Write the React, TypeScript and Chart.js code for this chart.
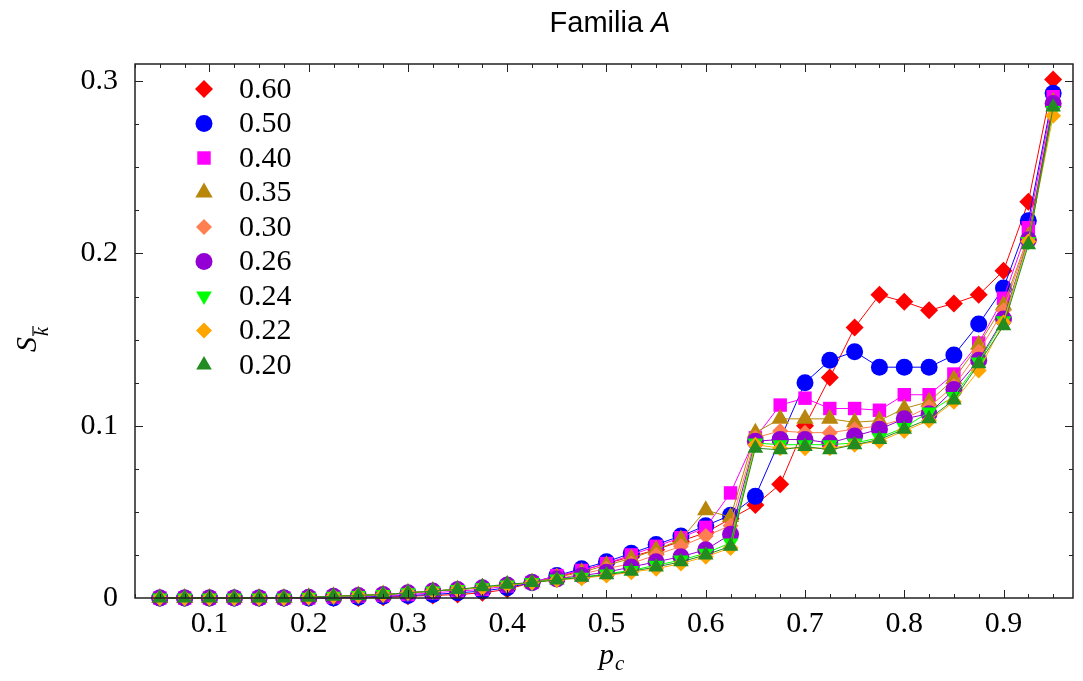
import React, { useEffect, useRef } from 'react';
import { Chart, registerables } from 'chart.js';

Chart.register(...registerables);

// ---- data ----
const pValues = [0.05, 0.075, 0.1, 0.125, 0.15, 0.175, 0.2, 0.225, 0.25, 0.275, 0.3, 0.325, 0.35, 0.375, 0.4, 0.425, 0.45, 0.475, 0.5, 0.525, 0.55, 0.575, 0.6, 0.625, 0.65, 0.675, 0.7, 0.725, 0.75, 0.775, 0.8, 0.825, 0.85, 0.875, 0.9, 0.925, 0.95];

const s060 = [0, 0, 0, 0, 0, 0, 0, 0, 0, 0.0005, 0.001, 0.0015, 0.002, 0.003, 0.005, 0.009, 0.012, 0.016, 0.02, 0.024, 0.028, 0.033, 0.038, 0.046, 0.054, 0.066, 0.1, 0.128, 0.157, 0.176, 0.172, 0.167, 0.171, 0.176, 0.19, 0.23, 0.301];
const s050 = [0, 0, 0, 0, 0, 0, 0, 0, 0.0005, 0.001, 0.0015, 0.002, 0.003, 0.004, 0.006, 0.009, 0.013, 0.017, 0.021, 0.026, 0.031, 0.036, 0.042, 0.048, 0.059, 0.092, 0.125, 0.138, 0.143, 0.134, 0.134, 0.134, 0.141, 0.159, 0.18, 0.219, 0.293];
const s040 = [0, 0, 0, 0, 0, 0, 0, 0.0005, 0.001, 0.0015, 0.002, 0.003, 0.004, 0.005, 0.007, 0.009, 0.013, 0.016, 0.02, 0.025, 0.03, 0.035, 0.041, 0.061, 0.093, 0.112, 0.116, 0.11, 0.11, 0.109, 0.118, 0.118, 0.13, 0.148, 0.174, 0.215, 0.291];
const s035 = [0, 0, 0, 0, 0, 0, 0.0005, 0.001, 0.0015, 0.002, 0.003, 0.004, 0.005, 0.006, 0.0075, 0.009, 0.012, 0.015, 0.019, 0.023, 0.028, 0.034, 0.051, 0.047, 0.096, 0.104, 0.104, 0.104, 0.102, 0.103, 0.11, 0.114, 0.127, 0.147, 0.17, 0.21, 0.288];
const s030 = [0, 0, 0, 0, 0, 0, 0.0005, 0.001, 0.0015, 0.002, 0.003, 0.004, 0.005, 0.006, 0.0075, 0.009, 0.011, 0.014, 0.017, 0.02, 0.025, 0.03, 0.036, 0.042, 0.093, 0.097, 0.096, 0.096, 0.098, 0.1, 0.104, 0.111, 0.123, 0.143, 0.167, 0.209, 0.285];
const s026 = [0, 0, 0, 0, 0, 0, 0.0005, 0.001, 0.0015, 0.002, 0.003, 0.004, 0.005, 0.006, 0.0075, 0.009, 0.011, 0.013, 0.015, 0.018, 0.021, 0.024, 0.028, 0.037, 0.091, 0.092, 0.092, 0.09, 0.094, 0.098, 0.104, 0.107, 0.121, 0.138, 0.162, 0.208, 0.287];
const s024 = [0, 0, 0, 0, 0, 0, 0.0005, 0.001, 0.0015, 0.002, 0.003, 0.004, 0.005, 0.006, 0.0075, 0.009, 0.011, 0.012, 0.014, 0.016, 0.019, 0.022, 0.026, 0.032, 0.09, 0.089, 0.089, 0.089, 0.09, 0.093, 0.099, 0.108, 0.117, 0.137, 0.161, 0.207, 0.283];
const s022 = [0, 0, 0, 0, 0, 0, 0.0005, 0.001, 0.0015, 0.002, 0.003, 0.004, 0.005, 0.006, 0.0075, 0.009, 0.0105, 0.0115, 0.013, 0.015, 0.017, 0.02, 0.024, 0.029, 0.089, 0.087, 0.087, 0.087, 0.089, 0.091, 0.097, 0.103, 0.114, 0.132, 0.16, 0.207, 0.28];
const s020 = [0, 0, 0, 0, 0, 0, 0.0005, 0.001, 0.0015, 0.002, 0.003, 0.004, 0.005, 0.0065, 0.008, 0.009, 0.0105, 0.012, 0.0135, 0.0155, 0.018, 0.021, 0.025, 0.03, 0.087, 0.086, 0.088, 0.086, 0.089, 0.092, 0.098, 0.104, 0.115, 0.136, 0.158, 0.205, 0.285];

const seriesLabels = ['0.60', '0.50', '0.40', '0.35', '0.30', '0.26', '0.24', '0.22', '0.20'];
const seriesValues = [s060, s050, s040, s035, s030, s026, s024, s022, s020];
const xTickValues = [0.1, 0.2, 0.3, 0.4, 0.5, 0.6, 0.7, 0.8, 0.9];
const yTickValues = [0, 0.1, 0.2, 0.3];

// ---- styles ----
const colors = ['#FF0000', '#0000FF', '#FF00FF', '#B8860B', '#FF7F50', '#9400D3', '#00FF00', '#FFA500', '#228B22'];
const pointStyles = ['rectRot', 'circle', 'rect', 'triangle', 'rectRot', 'circle', 'triangle', 'rectRot', 'triangle'];
const pointRotations = [0, 0, 0, 0, 0, 0, 180, 0, 0];
const pointRadii = [9, 8.5, 9.5, 10, 8, 8.5, 9, 8, 9];

const SERIF = '"Liberation Serif", "Times New Roman", serif';
const SANS = '"Liberation Sans", Arial, sans-serif';

function drawMarker(ctx: CanvasRenderingContext2D, style: string, x: number, y: number, r: number, rotation: number, color: string) {
  ctx.fillStyle = color;
  ctx.beginPath();
  if (style === 'circle') {
    ctx.arc(x, y, r, 0, Math.PI * 2);
  } else if (style === 'rect') {
    const s = r * Math.SQRT1_2;
    ctx.rect(x - s, y - s, 2 * s, 2 * s);
  } else if (style === 'rectRot') {
    ctx.moveTo(x - r, y);
    ctx.lineTo(x, y - r);
    ctx.lineTo(x + r, y);
    ctx.lineTo(x, y + r);
    ctx.closePath();
  } else if (style === 'triangle') {
    const rad = (rotation * Math.PI) / 180;
    for (let k = 0; k < 3; k++) {
      const a = rad + (k * 2 * Math.PI) / 3;
      const px = x + Math.sin(a) * r;
      const py = y - Math.cos(a) * r;
      if (k === 0) ctx.moveTo(px, py);
      else ctx.lineTo(px, py);
    }
    ctx.closePath();
  }
  ctx.fill();
}

const decorPlugin = {
  id: 'decor',
  afterDraw(chart: any) {
    const { ctx, chartArea: a, scales } = chart;
    const xs = scales.x;
    const ys = scales.y;
    ctx.save();

    // frame
    ctx.strokeStyle = '#222';
    ctx.lineWidth = 1.5;
    ctx.strokeRect(a.left, a.top, a.right - a.left, a.bottom - a.top);

    // ticks on all sides (major every 0.1, minor every 0.025)
    ctx.lineWidth = 1;
    ctx.beginPath();
    for (let k = 1; k <= 38; k++) {
      const v = k * 0.025;
      if (v < xs.min || v > xs.max) continue;
      const px = Math.round(xs.getPixelForValue(v)) + 0.5;
      const len = k % 4 === 0 ? 8 : 4;
      ctx.moveTo(px, a.bottom);
      ctx.lineTo(px, a.bottom - len);
      ctx.moveTo(px, a.top);
      ctx.lineTo(px, a.top + len);
    }
    for (let k = 1; k <= 12; k++) {
      const v = k * 0.025;
      if (v > ys.max) continue;
      const py = Math.round(ys.getPixelForValue(v)) + 0.5;
      const len = k % 4 === 0 ? 8 : 4;
      ctx.moveTo(a.left, py);
      ctx.lineTo(a.left + len, py);
      ctx.moveTo(a.right, py);
      ctx.lineTo(a.right - len, py);
    }
    ctx.stroke();

    // title
    ctx.fillStyle = '#000';
    ctx.textBaseline = 'alphabetic';
    ctx.font = `29px ${SANS}`;
    const t1 = 'Familia ';
    const w1 = ctx.measureText(t1).width;
    ctx.font = `italic 29px ${SANS}`;
    const w2 = ctx.measureText('A').width;
    const tx = 610 - (w1 + w2) / 2;
    ctx.font = `29px ${SANS}`;
    ctx.textAlign = 'left';
    ctx.fillText(t1, tx, 32);
    ctx.font = `italic 29px ${SANS}`;
    ctx.fillText('A', tx + w1, 32);

    // x axis label p_c
    ctx.font = `italic 30px ${SERIF}`;
    const wp = ctx.measureText('p').width;
    ctx.fillText('p', 599, 664);
    ctx.font = `italic 21px ${SERIF}`;
    ctx.fillText('c', 599 + wp + 1, 670);

    // y axis label S_{\bar k}
    ctx.save();
    ctx.translate(36, 352);
    ctx.rotate(-Math.PI / 2);
    ctx.font = `italic 30px ${SERIF}`;
    const ws = ctx.measureText('S').width;
    ctx.fillText('S', 0, 0);
    ctx.font = `italic 20px ${SERIF}`;
    const wk = ctx.measureText('k').width;
    ctx.fillText('k', ws + 1, 12);
    ctx.strokeStyle = '#000';
    ctx.lineWidth = 1.2;
    ctx.beginPath();
    ctx.moveTo(ws + 1, -3);
    ctx.lineTo(ws + 2 + wk, -3);
    ctx.stroke();
    ctx.restore();

    // legend
    ctx.font = `30px ${SERIF}`;
    ctx.textBaseline = 'middle';
    ctx.textAlign = 'left';
    for (let i = 0; i < seriesLabels.length; i++) {
      const y = 89 + i * 34.5;
      drawMarker(ctx, pointStyles[i], 204, y, pointRadii[i], pointRotations[i], colors[i]);
      ctx.fillStyle = '#000';
      ctx.fillText(seriesLabels[i], 239, y + 1);
    }

    ctx.restore();
  },
};

export default function App() {
  const ref = useRef<HTMLCanvasElement>(null);

  useEffect(() => {
    const canvas = ref.current;
    if (!canvas) return;
    const datasets = seriesLabels.map((label, i) => ({
      label,
      data: pValues.map((x, j) => ({ x, y: seriesValues[i][j] })),
      borderColor: colors[i],
      backgroundColor: colors[i],
      pointBackgroundColor: colors[i],
      borderWidth: 1,
      pointStyle: pointStyles[i] as any,
      pointRotation: pointRotations[i],
      pointRadius: pointRadii[i],
      pointBorderWidth: 0,
      tension: 0,
      clip: false as any,
      order: seriesLabels.length - i,
    }));

    const chart = new Chart(canvas, {
      type: 'line',
      data: { datasets },
      options: {
        animation: false,
        responsive: false,
        devicePixelRatio: 1,
        events: [],
        layout: { padding: { top: 64, right: 3, bottom: 0, left: 0 } },
        plugins: {
          legend: { display: false },
          title: { display: false },
          tooltip: { enabled: false },
        },
        scales: {
          x: {
            type: 'linear',
            min: 0.025,
            max: 0.97,
            grid: { display: false, drawTicks: false },
            border: { display: false },
            ticks: {
              color: '#000',
              font: { family: SERIF, size: 30 },
              padding: 8,
              maxRotation: 0,
              autoSkip: false,
              callback: (v: any) => Number(v).toFixed(1),
            },
            afterBuildTicks: (s: any) => {
              s.ticks = xTickValues.map((value) => ({ value }));
            },
            afterFit: (s: any) => {
              s.height = 83;
            },
          },
          y: {
            type: 'linear',
            min: 0,
            max: 0.31,
            grid: { display: false, drawTicks: false },
            border: { display: false },
            ticks: {
              color: '#000',
              font: { family: SERIF, size: 30 },
              padding: 17,
              autoSkip: false,
              callback: (v: any) => (Number(v) === 0 ? '0' : Number(v).toFixed(1)),
            },
            afterBuildTicks: (s: any) => {
              s.ticks = yTickValues.map((value) => ({ value }));
            },
            afterFit: (s: any) => {
              s.width = 135;
            },
          },
        },
      },
      plugins: [decorPlugin],
    });
    return () => chart.destroy();
  }, []);

  return (
    <div style={{ position: 'absolute', left: 0, top: 0, width: 1083, height: 681, background: '#fff' }}>
      <canvas ref={ref} width={1083} height={681} style={{ display: 'block', width: 1083, height: 681 }} />
    </div>
  );
}
